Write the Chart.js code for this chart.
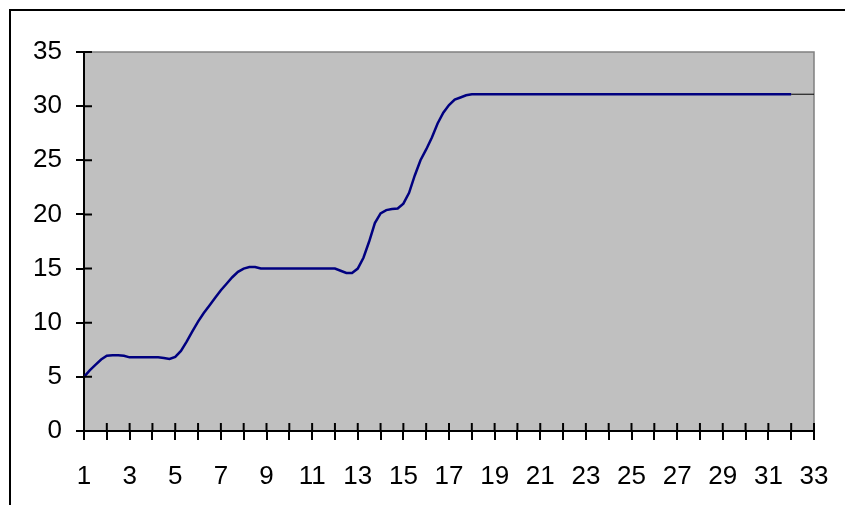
<!DOCTYPE html>
<html>
<head>
<meta charset="utf-8">
<script src="https://cdn.jsdelivr.net/npm/chart.js@4.4.1/dist/chart.umd.min.js"></script>
<style>
    html, body { margin: 0; padding: 0; background: #fff; overflow: hidden; }
    #frame {
        position: absolute; left: 9px; top: 9px;
        width: 900px; height: 600px;
        border-left: 2.5px solid #000; border-top: 2.5px solid #000;
    }
    #wrap { position: absolute; left: 0; top: 0; width: 845px; height: 505px; }
</style>
</head>
<body>
<div id="frame"></div>
<div id="wrap"><canvas id="chart" width="845" height="505"></canvas></div>
<script>
// x positions (category units) and values
const xs = [
    1, 1.25, 1.5, 1.75, 2, 2.25, 2.5, 2.75, 3, 3.5, 4, 4.25, 4.5, 4.75,
    5, 5.25, 5.5, 5.75, 6, 6.25, 6.5, 6.75, 7, 7.25, 7.5, 7.75,
    8, 8.25, 8.5, 8.75, 9, 10, 11, 12, 12.25, 12.5, 12.75,
    13, 13.25, 13.5, 13.75, 14, 14.25, 14.5, 14.75,
    15, 15.25, 15.5, 15.75, 16, 16.25, 16.5, 16.75,
    17, 17.25, 17.5, 17.75, 18, 19, 20, 21, 22, 23, 24, 25,
    26, 27, 28, 29, 30, 31, 32, 33
];
const ys = [
    5.0, 5.6, 6.1, 6.6, 6.95, 7.0, 7.0, 6.95, 6.8, 6.8, 6.8, 6.8, 6.75, 6.65,
    6.85, 7.4, 8.25, 9.2, 10.1, 10.9, 11.6, 12.3, 13.0, 13.6, 14.2, 14.7,
    15.0, 15.15, 15.15, 15.0, 15.0, 15.0, 15.0, 15.0, 14.8, 14.6, 14.6,
    15.0, 16.0, 17.5, 19.2, 20.1, 20.4, 20.5, 20.55,
    21.0, 22.0, 23.6, 25.0, 26.0, 27.1, 28.4, 29.4,
    30.1, 30.6, 30.8, 31.0, 31.1, 31.1, 31.1, 31.1, 31.1, 31.1, 31.1, 31.1,
    31.1, 31.1, 31.1, 31.1, 31.1, 31.1, 31.1, 31.1
];
const yTicks = [0, 5, 10, 15, 20, 25, 30, 35];
const xFirst = 1;
const xLast = 33;

const points = xs.map((x, i) => ({ x: x, y: ys[i] }));

// gray plot area + crossing tick marks like the old spreadsheet look
const plotArea = {
    id: 'plotArea',
    beforeDraw(chart) {
        const { ctx, chartArea: a } = chart;
        ctx.save();
        ctx.fillStyle = '#c0c0c0';
        ctx.fillRect(a.left, a.top, a.right - a.left, a.bottom - a.top);
        ctx.strokeStyle = '#808080';
        ctx.lineWidth = 1.5;
        ctx.beginPath();
        ctx.moveTo(a.left, a.top);
        ctx.lineTo(a.right, a.top);
        ctx.lineTo(a.right, a.bottom);
        ctx.stroke();
        ctx.restore();
    },
    afterDraw(chart) {
        const { ctx, chartArea: a, scales } = chart;
        ctx.save();
        ctx.strokeStyle = '#000';
        ctx.lineWidth = 2;
        ctx.beginPath();
        yTicks.forEach(v => {
            const py = scales.y.getPixelForValue(v);
            ctx.moveTo(a.left, py);
            ctx.lineTo(a.left + 8, py);
        });
        for (let v = xFirst; v <= xLast; v++) {
            const px = scales.x.getPixelForValue(v);
            ctx.moveTo(px, a.bottom);
            ctx.lineTo(px, a.bottom - 8);
        }
        ctx.stroke();
        ctx.restore();
    }
};

Chart.defaults.font.family = '"Liberation Sans", Arial, sans-serif';
Chart.defaults.color = '#000';

new Chart(document.getElementById('chart'), {
    type: 'line',
    data: {
        datasets: [{
            data: points,
            borderColor: '#000080',
            borderWidth: 2.5,
            pointRadius: 0,
            tension: 0,
            segment: {
                borderColor: c => c.p0.parsed.x >= 32 ? '#000' : undefined,
                borderWidth: c => c.p0.parsed.x >= 32 ? 1 : undefined
            }
        }]
    },
    options: {
        responsive: false,
        animation: false,
        layout: { padding: { top: 52, right: 31, left: 0, bottom: 0 } },
        plugins: {
            legend: { display: false },
            tooltip: { enabled: false }
        },
        scales: {
            x: {
                type: 'linear',
                min: xFirst,
                max: xLast,
                afterFit: s => { s.height = 74; s.paddingLeft = 0; s.paddingRight = 0; },
                border: { color: '#000', width: 2 },
                grid: { drawOnChartArea: false, color: '#000', lineWidth: 2, tickLength: 9 },
                ticks: {
                    stepSize: 1,
                    autoSkip: false,
                    maxRotation: 0,
                    padding: 21,
                    font: { size: 26 },
                    callback: v => ((v - xFirst) % 2 === 0 ? v : '')
                }
            },
            y: {
                min: 0,
                max: 35,
                afterFit: s => { s.width = 84; s.paddingTop = 0; s.paddingBottom = 0; },
                border: { color: '#000', width: 2 },
                grid: { drawOnChartArea: false, color: '#000', lineWidth: 2, tickLength: 8 },
                ticks: {
                    stepSize: 5,
                    padding: 14,
                    font: { size: 26 }
                }
            }
        }
    },
    plugins: [plotArea]
});
</script>
</body>
</html>
